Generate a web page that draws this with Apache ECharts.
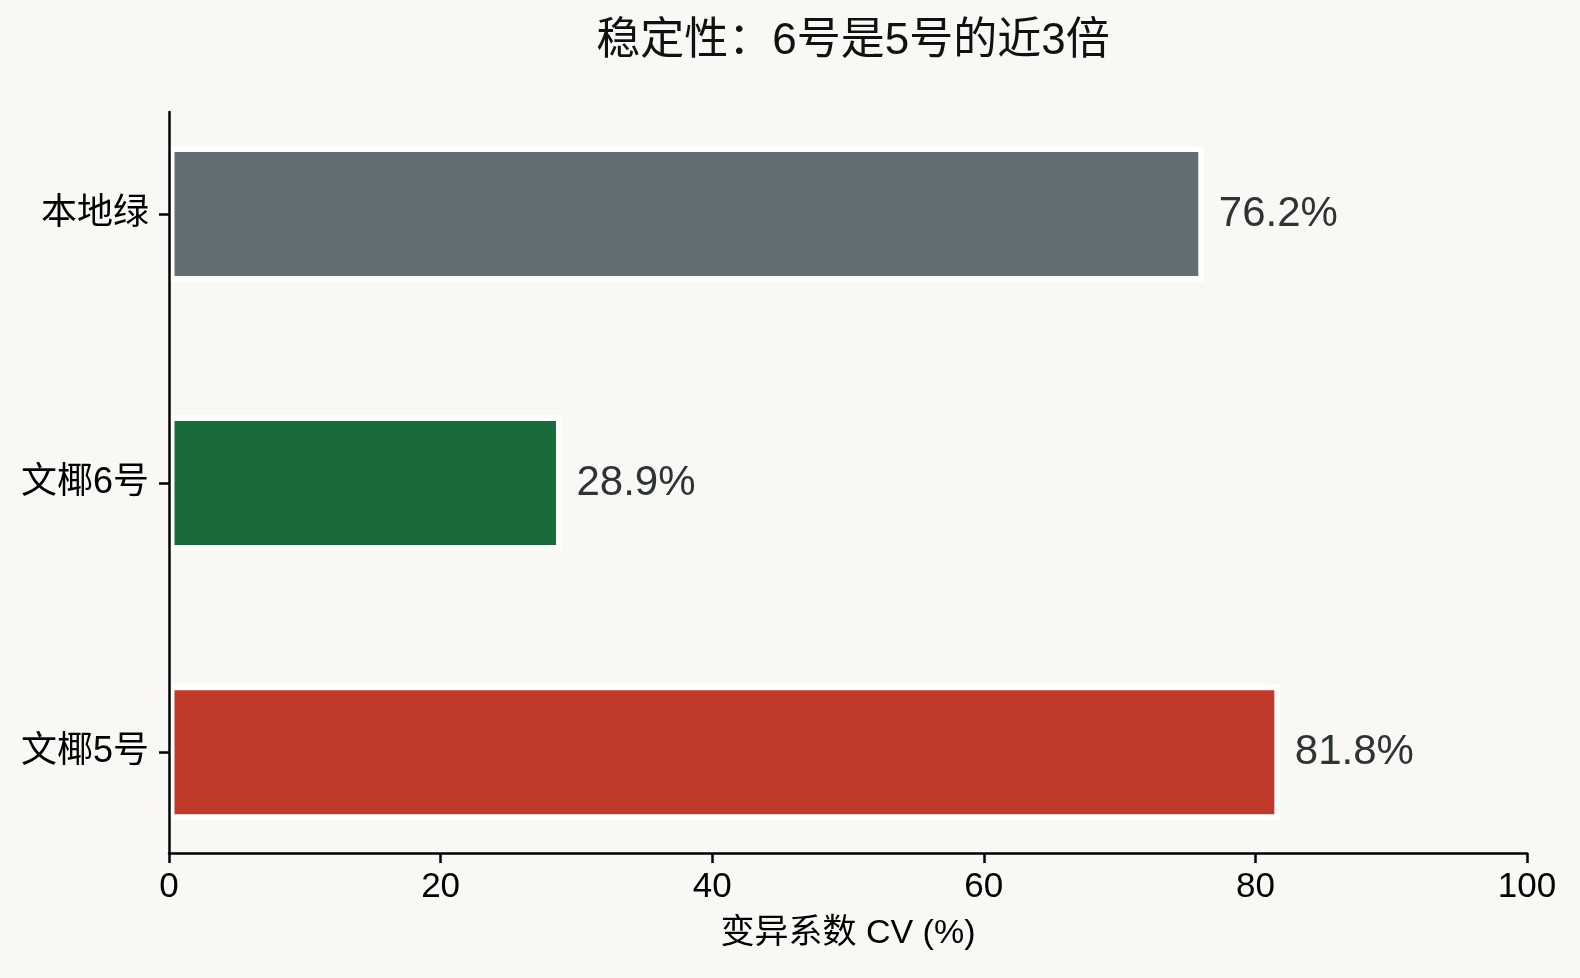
<!DOCTYPE html>
<html>
<head>
<meta charset="utf-8">
<script src="https://cdn.jsdelivr.net/npm/echarts@6/dist/echarts.min.js"></script>
<style>
html,body{margin:0;padding:0;background:#f9f8f4;}
#main{width:1580px;height:978px;}
</style>
</head>
<body>
<div id="main"></div>
<script>
// Data (bottom to top)
const categories = ['文椰5号', '文椰6号', '本地绿'];
const cvValues = [81.8, 28.9, 76.2];
const barColors = ['#c0392b', '#1a6b3c', '#636e72'];
const xTicks = [0, 20, 40, 60, 80, 100];

const titleText = '稳定性：6号是5号的近3倍';
const xAxisName = '变异系数 CV (%)';

const FONT = '"Liberation Sans", "Noto Sans CJK SC", sans-serif';

const chart = echarts.init(document.getElementById('main'));
const option = {
  backgroundColor: '#f9f8f4',
  animation: false,
  title: {
    text: titleText,
    left: 848,
    textAlign: 'center',
    top: 15,
    textStyle: { fontFamily: FONT, fontSize: 44, fontWeight: 'normal', color: '#111' }
  },
  grid: [
    // bars grid: one category band = 269.5px, bottom margin of 0.375 band below the axis
    { left: 169, right: 53, top: 79.5, bottom: 91.3, containLabel: false },
    // frame grid: visible axes
    { left: 169, right: 53, top: 112, bottom: 125, containLabel: false }
  ],
  xAxis: [
    { gridIndex: 0, type: 'value', show: false, min: xTicks[0], max: xTicks[xTicks.length - 1] },
    {
      gridIndex: 1,
      type: 'value',
      min: xTicks[0],
      max: xTicks[xTicks.length - 1],
      interval: 20,
      z: 5,
      axisLine: { show: true, lineStyle: { color: '#000', width: 2.5 } },
      axisTick: { show: true, length: 10, lineStyle: { color: '#000', width: 2.5 } },
      axisLabel: { fontFamily: FONT, fontSize: 35, color: '#000', margin: 17 },
      splitLine: { show: false },
      name: xAxisName,
      nameLocation: 'middle',
      nameGap: 64,
      nameTextStyle: { fontFamily: FONT, fontSize: 34, color: '#000' }
    }
  ],
  yAxis: [
    {
      gridIndex: 0,
      type: 'category',
      data: categories,
      z: 5,
      axisLine: { show: false },
      axisTick: { show: true, alignWithLabel: true, length: 10, lineStyle: { color: '#000', width: 2.5 } },
      axisLabel: { fontFamily: FONT, fontSize: 36, color: '#000', margin: 20 },
      splitLine: { show: false }
    },
    {
      gridIndex: 1,
      type: 'value',
      min: 0,
      max: 1,
      z: 5,
      axisLine: { show: true, lineStyle: { color: '#000', width: 2.5 } },
      axisTick: { show: false },
      axisLabel: { show: false },
      splitLine: { show: false }
    }
  ],
  series: [
    {
      type: 'bar',
      xAxisIndex: 0,
      yAxisIndex: 0,
      barWidth: 135,
      data: cvValues.map((v, i) => ({ value: v, itemStyle: { color: barColors[i] } })),
      itemStyle: { borderColor: '#ffffff', borderWidth: 5.5 },
      label: {
        show: true,
        position: 'right',
        distance: 15,
        formatter: p => p.value.toFixed(1) + '%',
        fontFamily: FONT,
        fontSize: 42,
        color: '#2d3436'
      },
      z: 1
    }
  ]
};
chart.setOption(option);
</script>
</body>
</html>
